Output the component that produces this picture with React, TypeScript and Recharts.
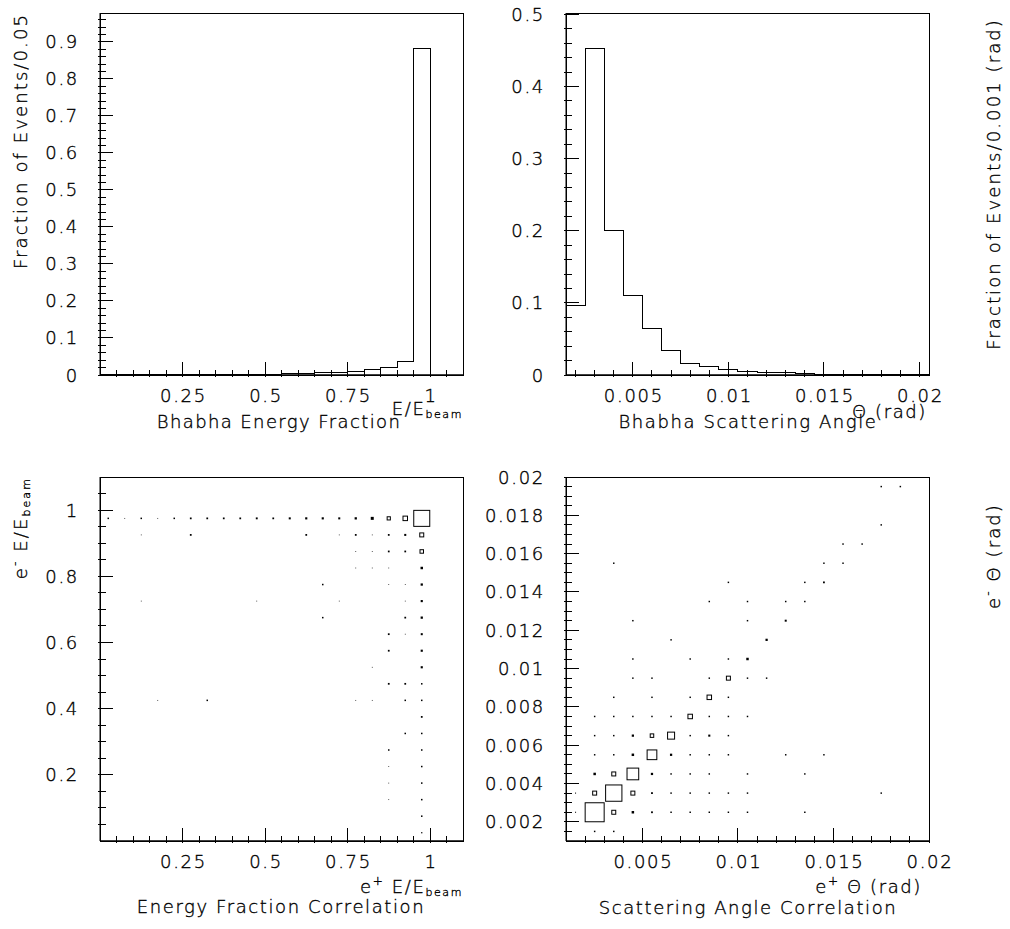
import React from 'react';
import { LineChart, Line, ScatterChart, Scatter, XAxis, YAxis, ZAxis, ReferenceArea } from 'recharts';

const FONT = '"DejaVu Sans", "Liberation Sans", sans-serif';
const INK = '#000';

// Bhabha energy fraction: bin edges (0.05 wide) and fraction of events per bin
const energyEdges = [0, 0.05, 0.1, 0.15, 0.2, 0.25, 0.3, 0.35, 0.4, 0.45, 0.5, 0.55, 0.6, 0.65, 0.7, 0.75, 0.8, 0.85, 0.9, 0.95, 1.0, 1.05, 1.1];
const energyFraction = [0.0005, 0.0005, 0.0005, 0.0005, 0.0008, 0.0008, 0.001, 0.001, 0.001, 0.0015, 0.002, 0.003, 0.005, 0.007, 0.007, 0.0108, 0.0153, 0.0207, 0.0378, 0.883, 0, 0];

// Bhabha scattering angle: bin edges (0.001 rad wide) and fraction of events per bin
const angleEdges = [0.0015, 0.0025, 0.0035, 0.0045, 0.0055, 0.0065, 0.0075, 0.0085, 0.0095, 0.0105, 0.0115, 0.0125, 0.0135, 0.0145, 0.0155, 0.0165, 0.0175, 0.0185, 0.0195, 0.0205];
const angleFraction = [0.097, 0.453, 0.2, 0.11, 0.064, 0.034, 0.016, 0.0115, 0.007, 0.005, 0.003, 0.003, 0.0015, 0.001, 0.001, 0.0005, 0.0005, 0.0003, 0.0003];

// energy correlation boxes: [e+ E/Ebeam, e- E/Ebeam, relative content]
const energyCells = [
  [0.025, 0.975, 9], [0.075, 0.975, 2.5], [0.125, 0.975, 9], [0.175, 0.975, 2.5], [0.225, 0.975, 9],
  [0.275, 0.975, 12], [0.325, 0.975, 12], [0.375, 0.975, 12], [0.425, 0.975, 12], [0.475, 0.975, 14],
  [0.525, 0.975, 12], [0.575, 0.975, 16], [0.625, 0.975, 18], [0.675, 0.975, 18], [0.725, 0.975, 16],
  [0.775, 0.975, 20], [0.825, 0.975, 35], [0.875, 0.975, 40], [0.925, 0.975, 79], [0.975, 0.975, 1000],
  [0.125, 0.925, 2.5], [0.275, 0.925, 12], [0.625, 0.925, 12], [0.725, 0.925, 2.5], [0.775, 0.925, 12],
  [0.825, 0.925, 2.5], [0.875, 0.925, 12], [0.925, 0.925, 16], [0.975, 0.925, 62],
  [0.775, 0.875, 2.5], [0.825, 0.875, 2.5], [0.875, 0.875, 12], [0.925, 0.875, 12], [0.975, 0.875, 48],
  [0.775, 0.825, 2.5], [0.825, 0.825, 2.5], [0.875, 0.825, 2.5], [0.975, 0.825, 24],
  [0.675, 0.775, 9], [0.875, 0.775, 2.5], [0.925, 0.775, 2.5], [0.975, 0.775, 20],
  [0.125, 0.725, 2.5], [0.475, 0.725, 2.5], [0.725, 0.725, 2.5], [0.925, 0.725, 2.5], [0.975, 0.725, 18],
  [0.675, 0.675, 9], [0.925, 0.675, 12], [0.975, 0.675, 20],
  [0.875, 0.625, 12], [0.925, 0.625, 2.5], [0.975, 0.625, 16],
  [0.875, 0.575, 12], [0.975, 0.575, 18],
  [0.825, 0.525, 2.5], [0.975, 0.525, 18],
  [0.875, 0.475, 12], [0.925, 0.475, 12], [0.975, 0.475, 9],
  [0.175, 0.425, 2.5], [0.325, 0.425, 9], [0.775, 0.425, 2.5], [0.825, 0.425, 2.5], [0.925, 0.425, 9], [0.975, 0.425, 9],
  [0.975, 0.375, 12],
  [0.925, 0.325, 9], [0.975, 0.325, 9],
  [0.875, 0.275, 9], [0.975, 0.275, 9],
  [0.875, 0.225, 2.5], [0.975, 0.225, 9],
  [0.875, 0.175, 2.5], [0.975, 0.175, 9],
  [0.875, 0.125, 2.5], [0.975, 0.125, 9],
  [0.975, 0.075, 9],
  [0.975, 0.025, 6],
];

// angle correlation boxes: [e+ theta, e- theta, relative content]
const angleCells = [
  [0.0025, 0.0015, 6], [0.0035, 0.0015, 6],
  [0.0015, 0.0025, 3], [0.0025, 0.0025, 1000], [0.0035, 0.0025, 44], [0.0045, 0.0025, 17], [0.0055, 0.0025, 9],
  [0.0065, 0.0025, 6], [0.0075, 0.0025, 6], [0.0085, 0.0025, 6], [0.0095, 0.0025, 6], [0.0105, 0.0025, 6], [0.0135, 0.0025, 6],
  [0.0015, 0.0035, 3], [0.0025, 0.0035, 44], [0.0035, 0.0035, 736], [0.0045, 0.0035, 44], [0.0055, 0.0035, 9],
  [0.0065, 0.0035, 6], [0.0075, 0.0035, 6], [0.0085, 0.0035, 6], [0.0095, 0.0035, 6], [0.0105, 0.0035, 6], [0.0175, 0.0035, 6],
  [0.0025, 0.0045, 17], [0.0035, 0.0045, 44], [0.0045, 0.0045, 379], [0.0055, 0.0045, 14], [0.0065, 0.0045, 6],
  [0.0075, 0.0045, 6], [0.0085, 0.0045, 6], [0.0105, 0.0045, 6], [0.0135, 0.0045, 6],
  [0.0025, 0.0055, 6], [0.0035, 0.0055, 6], [0.0045, 0.0055, 17], [0.0055, 0.0055, 261], [0.0065, 0.0055, 14],
  [0.0075, 0.0055, 6], [0.0085, 0.0055, 6], [0.0095, 0.0055, 6], [0.0125, 0.0055, 6], [0.0145, 0.0055, 6],
  [0.0025, 0.0065, 6], [0.0035, 0.0065, 6], [0.0045, 0.0065, 14], [0.0055, 0.0065, 34], [0.0065, 0.0065, 136],
  [0.0075, 0.0065, 6], [0.0085, 0.0065, 12], [0.0095, 0.0065, 6],
  [0.0025, 0.0075, 6], [0.0035, 0.0075, 6], [0.0045, 0.0075, 6], [0.0055, 0.0075, 6], [0.0065, 0.0075, 6],
  [0.0075, 0.0075, 56], [0.0085, 0.0075, 6], [0.0095, 0.0075, 6], [0.0105, 0.0075, 6],
  [0.0035, 0.0085, 6], [0.0055, 0.0085, 6], [0.0075, 0.0085, 6], [0.0085, 0.0085, 56], [0.0095, 0.0085, 6],
  [0.0045, 0.0095, 6], [0.0055, 0.0095, 6], [0.0085, 0.0095, 6], [0.0095, 0.0095, 44], [0.0105, 0.0095, 6], [0.0115, 0.0095, 6],
  [0.0045, 0.0105, 6], [0.0075, 0.0105, 6], [0.0095, 0.0105, 6], [0.0105, 0.0105, 17],
  [0.0065, 0.0115, 6], [0.0115, 0.0115, 14],
  [0.0045, 0.0125, 6], [0.0105, 0.0125, 6], [0.0125, 0.0125, 11],
  [0.0085, 0.0135, 6], [0.0105, 0.0135, 6], [0.0125, 0.0135, 6], [0.0135, 0.0135, 6],
  [0.0095, 0.0145, 6], [0.0135, 0.0145, 6], [0.0145, 0.0145, 9],
  [0.0035, 0.0155, 6], [0.0145, 0.0155, 6], [0.0155, 0.0155, 6],
  [0.0155, 0.0165, 6], [0.0165, 0.0165, 6],
  [0.0175, 0.0175, 6],
  [0.0175, 0.0195, 6], [0.0185, 0.0195, 6],
];

// tick labels
const energyLabels = [0.25, 0.5, 0.75, 1];
const fractionLabels = [0, 0.1, 0.2, 0.3, 0.4, 0.5, 0.6, 0.7, 0.8, 0.9];
const angleFractionLabels = [0, 0.1, 0.2, 0.3, 0.4, 0.5];
const angleLabels = [0.005, 0.01, 0.015, 0.02];
const energyLabelsY = [0.2, 0.4, 0.6, 0.8, 1];
const angleLabelsY = [0.002, 0.004, 0.006, 0.008, 0.01, 0.012, 0.014, 0.016, 0.018, 0.02];

const steps = (from: number, to: number, step: number) => {
  const out: number[] = [];
  for (let i = 0; from + i * step <= to + 1e-12; i++) out.push(+(from + i * step).toFixed(6));
  return out;
};

type AxisSpec = { ticks: number[]; major: number[]; labels: number[] };

const energyX: AxisSpec = { ticks: steps(0.05, 1.05, 0.05), major: [0.25, 0.5, 0.75, 1], labels: energyLabels };
const fractionY: AxisSpec = { ticks: steps(0, 0.96, 0.02), major: fractionLabels, labels: fractionLabels };
const angleX: AxisSpec = { ticks: steps(0.002, 0.02, 0.001), major: angleLabels, labels: angleLabels };
const angleFracY: AxisSpec = { ticks: steps(0, 0.5, 0.02), major: angleFractionLabels, labels: angleFractionLabels };
const energyY: AxisSpec = { ticks: steps(0.05, 1.05, 0.05), major: [0.2, 0.4, 0.6, 0.8, 1], labels: energyLabelsY };
const angleX2: AxisSpec = { ticks: steps(0.002, 0.02, 0.001), major: angleLabels, labels: angleLabels };
const angleY2: AxisSpec = { ticks: steps(0.0015, 0.02, 0.0005), major: angleLabelsY, labels: angleLabelsY };

const tickText: React.CSSProperties = {
  fontFamily: FONT, fontSize: 18, fontWeight: 200, letterSpacing: 1.7, fill: INK, stroke: INK, strokeWidth: 0.35,
};
const isIn = (list: number[], v: number) => list.some((m) => Math.abs(m - v) < 1e-9);

const bottomTick = (spec: AxisSpec) => (props: any) => {
  const { x, y, payload } = props;
  const v = payload.value;
  const len = isIn(spec.major, v) ? 15 : 7;
  return (
    <g>
      <line x1={x} y1={y} x2={x} y2={y - len} stroke={INK} shapeRendering="crispEdges" />
      {isIn(spec.labels, v) && (
        <text x={x + 1} y={y + 25} textAnchor="middle" style={tickText}>{String(v)}</text>
      )}
    </g>
  );
};

const leftTick = (spec: AxisSpec) => (props: any) => {
  const { x, y, payload } = props;
  const v = payload.value;
  const len = isIn(spec.major, v) ? 15 : 8;
  return (
    <g>
      <line x1={x} y1={y} x2={x + len} y2={y} stroke={INK} shapeRendering="crispEdges" />
      {isIn(spec.labels, v) && (
        <text x={x - 19} y={y + 6.5} textAnchor="end" style={tickText}>{String(v)}</text>
      )}
    </g>
  );
};

const toSteps = (edges: number[], values: number[]) =>
  edges.map((x, i) => ({ x, y: values[Math.min(i, values.length - 1)] }));

const toCells = (cells: number[][]) => cells.map(([x, y, z]) => ({ x, y, z }));

const boxShape = (props: any) => {
  const { cx, cy, size } = props;
  const s = Math.sqrt(Math.max(size, 0));
  if (s >= 3) {
    return <rect x={cx - s / 2} y={cy - s / 2} width={s} height={s} fill="none" stroke={INK} strokeWidth={1} />;
  }
  return <rect x={cx - s / 2} y={cy - s / 2} width={s} height={s} fill={INK} />;
};

// every chart spans the whole page; its margins place the plot frame
const W = 1010;
const H = 929;

type Margin = { top: number; left: number; right: number; bottom: number };

function HistPanel({ data, xDomain, yDomain, xSpec, ySpec, margin }: {
  data: { x: number; y: number }[]; xDomain: [number, number]; yDomain: [number, number];
  xSpec: AxisSpec; ySpec: AxisSpec; margin: Margin;
}) {
  return (
    <LineChart width={W} height={H} data={data} margin={margin}>
      <XAxis type="number" dataKey="x" domain={xDomain} allowDataOverflow ticks={xSpec.ticks} interval={0}
        tickLine={false} tickSize={0} height={1} axisLine={{ stroke: INK, strokeWidth: 1.5 }} tick={bottomTick(xSpec)} />
      <YAxis type="number" domain={yDomain} allowDataOverflow ticks={ySpec.ticks} interval={0}
        tickLine={false} tickSize={0} width={1} axisLine={{ stroke: INK }} tick={leftTick(ySpec)} />
      <ReferenceArea x1={xDomain[0]} x2={xDomain[1]} y1={yDomain[0]} y2={yDomain[1]} fill="none" stroke={INK} strokeWidth={1} />
      <Line type="stepAfter" dataKey="y" stroke={INK} strokeWidth={1} dot={false} activeDot={false} isAnimationActive={false} />
    </LineChart>
  );
}

function BoxPanel({ data, xDomain, yDomain, xSpec, ySpec, margin, maxArea }: {
  data: { x: number; y: number; z: number }[]; xDomain: [number, number]; yDomain: [number, number];
  xSpec: AxisSpec; ySpec: AxisSpec; margin: Margin; maxArea: number;
}) {
  return (
    <ScatterChart width={W} height={H} margin={margin}>
      <XAxis type="number" dataKey="x" domain={xDomain} allowDataOverflow ticks={xSpec.ticks} interval={0}
        tickLine={false} tickSize={0} height={1} axisLine={{ stroke: INK, strokeWidth: 1.5 }} tick={bottomTick(xSpec)} />
      <YAxis type="number" dataKey="y" domain={yDomain} allowDataOverflow ticks={ySpec.ticks} interval={0}
        tickLine={false} tickSize={0} width={1} axisLine={{ stroke: INK }} tick={leftTick(ySpec)} />
      <ZAxis type="number" dataKey="z" domain={[0, 1000]} range={[0, maxArea]} />
      <ReferenceArea x1={xDomain[0]} x2={xDomain[1]} y1={yDomain[0]} y2={yDomain[1]} fill="none" stroke={INK} strokeWidth={1} />
      <Scatter data={data} shape={boxShape} isAnimationActive={false} />
    </ScatterChart>
  );
}

const label: React.CSSProperties = {
  fontFamily: FONT, fontSize: 18, fontWeight: 200, letterSpacing: 1.6, fill: INK, stroke: INK, strokeWidth: 0.35,
};
const yTitle: React.CSSProperties = { ...label, letterSpacing: 2.1 };
const layer: React.CSSProperties = { position: 'absolute', left: 0, top: 0 };

export default function App() {
  return (
    <div style={{ position: 'absolute', left: 0, top: 0, width: W, height: H, background: '#fff' }}>
      <style>{'.recharts-surface path { shape-rendering: crispEdges; }'}</style>
      <div style={layer}>
        <HistPanel data={toSteps(energyEdges, energyFraction)} xDomain={[0, 1.1]} yDomain={[0, 0.978]}
          xSpec={energyX} ySpec={fractionY} margin={{ top: 13, left: 99, right: 547, bottom: 553 }} />
      </div>
      <div style={layer}>
        <HistPanel data={toSteps(angleEdges, angleFraction)} xDomain={[0.0015, 0.0205]} yDomain={[0, 0.502]}
          xSpec={angleX} ySpec={angleFracY} margin={{ top: 13, left: 565, right: 81, bottom: 553 }} />
      </div>
      <div style={layer}>
        <BoxPanel data={toCells(energyCells)} xDomain={[0, 1.1]} yDomain={[0, 1.1]} maxArea={256}
          xSpec={energyX} ySpec={energyY} margin={{ top: 477, left: 99, right: 547, bottom: 87 }} />
      </div>
      <div style={layer}>
        <BoxPanel data={toCells(angleCells)} xDomain={[0.001, 0.02]} yDomain={[0.001, 0.02]} maxArea={361}
          xSpec={angleX2} ySpec={angleY2} margin={{ top: 477, left: 565, right: 81, bottom: 87 }} />
      </div>
      <svg width={W} height={H} style={{ ...layer, pointerEvents: 'none' }}>
        <text transform="translate(27,13) rotate(-90)" textAnchor="end" style={yTitle}>Fraction of Events/0.05</text>
        <text transform="translate(1000,18) rotate(-90)" textAnchor="end" style={yTitle}>Fraction of Events/0.001 (rad)</text>
        <text transform="translate(27,477) rotate(-90)" textAnchor="end" style={yTitle}>
          e<tspan fontSize={12} dy={-8}>-</tspan><tspan dy={8}> E/E</tspan><tspan fontSize={11} dy={3}>beam</tspan>
        </text>
        <text transform="translate(1000,503) rotate(-90)" textAnchor="end" style={yTitle}>
          e<tspan fontSize={12} dy={-8}>-</tspan><tspan dy={8}> Θ (rad)</tspan>
        </text>

        <text x={463} y={415} textAnchor="end" style={label}>
          E/E<tspan fontSize={11} dy={3}>beam</tspan>
        </text>
        <text x={927} y={418} textAnchor="end" style={label}>Θ (rad)</text>
        <text x={279} y={428} textAnchor="middle" style={{ ...label, letterSpacing: 1.4 }}>Bhabha Energy Fraction</text>
        <text x={748} y={428} textAnchor="middle" style={label}>Bhabha Scattering Angle</text>

        <text x={463} y={893} textAnchor="end" style={label}>
          e<tspan fontSize={12} dy={-8}>+</tspan><tspan dy={8}> E/E</tspan><tspan fontSize={11} dy={3}>beam</tspan>
        </text>
        <text x={922} y={893} textAnchor="end" style={label}>
          e<tspan fontSize={12} dy={-8}>+</tspan><tspan dy={8}> Θ (rad)</tspan>
        </text>
        <text x={281} y={913} textAnchor="middle" style={label}>Energy Fraction Correlation</text>
        <text x={748} y={914} textAnchor="middle" style={label}>Scattering Angle Correlation</text>
      </svg>
    </div>
  );
}
